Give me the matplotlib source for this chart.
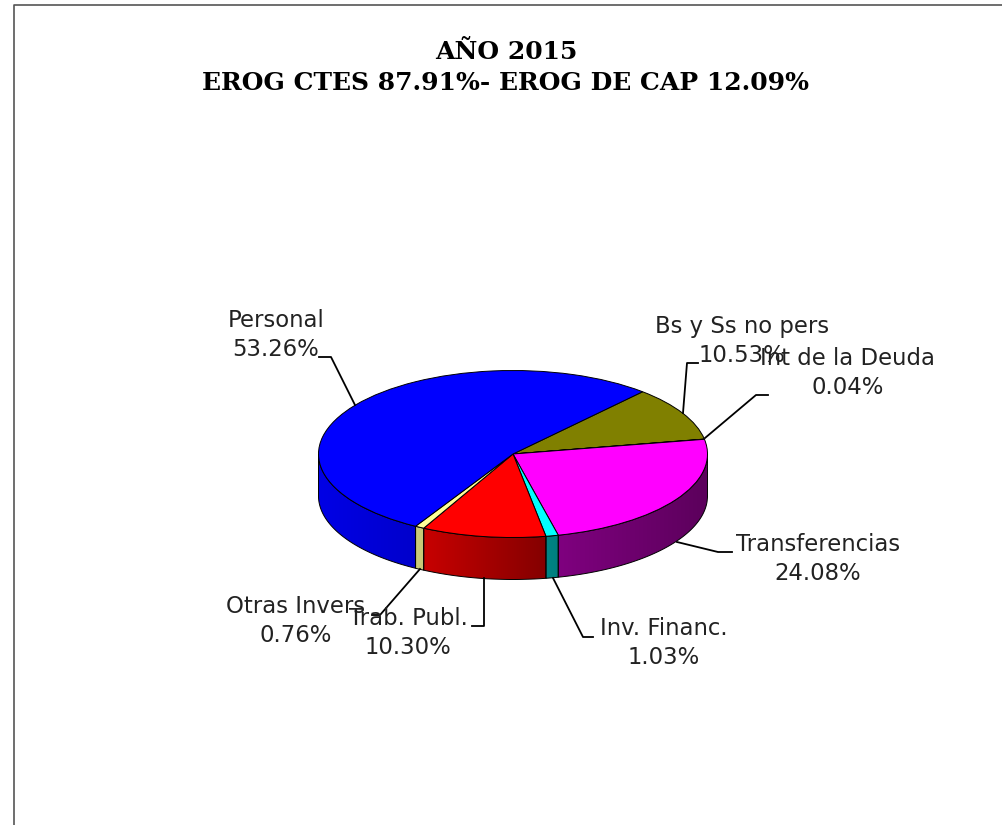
import numpy as np
import matplotlib
matplotlib.use("Agg")
import matplotlib.pyplot as plt
from matplotlib.patches import Polygon
from matplotlib.transforms import Affine2D

# Slices in clockwise order, starting from the Personal / Bs y Ss boundary
labels = ["Bs y Ss no pers", "Int de la Deuda", "Transferencias", "Inv. Financ.",
          "Trab. Publ.", "Otras Invers", "Personal"]
values = [10.53, 0.04, 24.08, 1.03, 10.30, 0.76, 53.26]
top_colors = ["#808000", "#FF00FF", "#FF00FF", "#00FFFF", "#FF0000", "#FFFF99", "#0000FF"]
title_lines = ["AÑO 2015", "EROG CTES 87.91%- EROG DE CAP 12.09%"]

# Geometry of the disc, in pixels
cx, cy, rx, ry = 513, 454, 194.5, 83.5
depth = 42
start = 48.2

# label centre, then leader line
label_pos = {
    "Personal": (276, 335),
    "Bs y Ss no pers": (742, 341),
    "Int de la Deuda": (848, 373),
    "Transferencias": (818, 559),
    "Inv. Financ.": (664, 643),
    "Trab. Publ.": (408, 633),
    "Otras Invers": (296, 621),
}
leaders = {
    "Personal": [(319, 357), (331, 357), (355, 405)],
    "Bs y Ss no pers": [(698, 363), (687, 363), (683, 413)],
    "Int de la Deuda": [(768, 395), (756, 395), (705, 438)],
    "Transferencias": [(677, 542), (718, 552), (732, 552)],
    "Inv. Financ.": [(553, 578), (583, 637), (593, 637)],
    "Trab. Publ.": [(484, 578), (484, 626), (472, 626)],
    "Otras Invers": [(420, 569), (380, 615), (372, 615)],
}

fig = plt.figure(figsize=(10.02, 8.25), dpi=100)
ax = fig.add_axes([0, 0, 1, 1])

wedges, _ = ax.pie(values, colors=top_colors, startangle=start, counterclock=False,
                   wedgeprops=dict(edgecolor="black", linewidth=0.7))
ax.set_aspect("auto")
ax.set_xlim(0, 1002)
ax.set_ylim(825, 0)
ax.axis("off")

# squash the flat pie into the top face of the disc
disc = Affine2D().scale(rx, -ry).translate(cx, cy) + ax.transData
for w in wedges:
    w.set_transform(disc)
    w.set_zorder(3)

# side wall shading, darker to the right
shade_x = [cx - rx, 415, 425, 546, 558, cx + rx]
shade_f = [0.90, 0.80, 0.78, 0.52, 0.50, 0.36]
gx = np.linspace(cx - rx, cx + rx, 400)
gf = np.interp(gx, shade_x, shade_f)

edges = start - np.cumsum([0] + values) * 3.6
for i, lab in enumerate(labels):
    # only the front half of the disc has a visible wall
    a = min(edges[i], 0)
    b = max(edges[i + 1], -180)
    if a <= b:
        continue
    tt = np.radians(np.linspace(a, b, 80))
    px = cx + rx * np.cos(tt)
    py = cy - ry * np.sin(tt)
    pts = np.r_[np.c_[px, py], np.c_[px[::-1], py[::-1] + depth]]
    rgb = np.array(matplotlib.colors.to_rgb(top_colors[i]))
    img = np.clip(gf[None, :, None] * rgb[None, None, :], 0, 1)
    im = ax.imshow(img, extent=(cx - rx, cx + rx, cy + ry + depth, cy), aspect="auto", zorder=1)
    poly = Polygon(pts, closed=True, facecolor="none", edgecolor="black", linewidth=0.7, zorder=2)
    ax.add_patch(poly)
    im.set_clip_path(poly)
ax.set_xlim(0, 1002)
ax.set_ylim(825, 0)

for lab, v in zip(labels, values):
    pts = np.array(leaders[lab])
    ax.plot(pts[:, 0], pts[:, 1], color="black", linewidth=1.3, zorder=4)
    x, y = label_pos[lab]
    ax.text(x, y, f"{lab}\n{v:.2f}%", ha="center", va="center", fontsize=16.4,
            family="DejaVu Sans", color="#222222", linespacing=1.38, zorder=5)

ax.text(506, 59, title_lines[0], ha="center", va="baseline", fontsize=18,
        family="DejaVu Serif", weight="bold")
ax.text(506, 90, title_lines[1], ha="center", va="baseline", fontsize=18,
        family="DejaVu Serif", weight="bold")

# chart frame, left and top only, runs off the image
ax.plot([14, 14, 1002], [825, 4.5, 4.5], color="#555555", linewidth=1.2, zorder=6)

fig.savefig("out.png", dpi=100)
